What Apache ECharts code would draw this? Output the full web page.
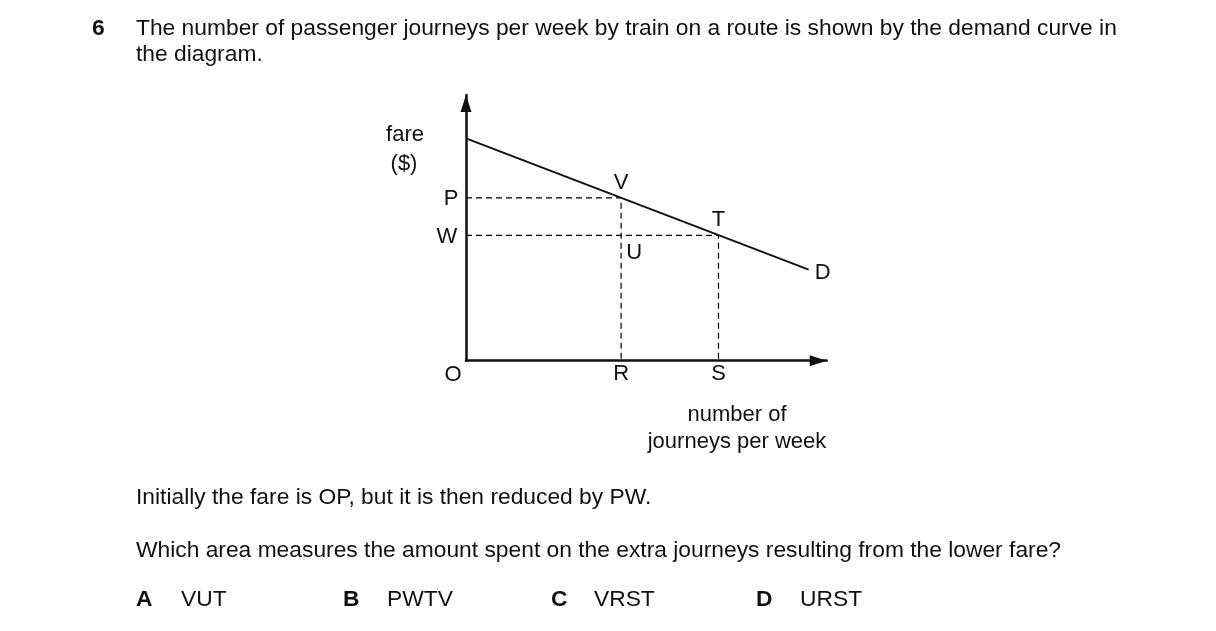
<!DOCTYPE html>
<html>
<head>
<meta charset="utf-8">
<script src="https://cdn.jsdelivr.net/npm/echarts@6/dist/echarts.min.js"></script>
<style>html,body{margin:0;padding:0;background:#fff}#c{width:1216px;height:631px}</style>
</head>
<body>
<div id="c"></div>
<script>
// ---- data ----
const demandX = [0, 95];
const demandY = [83.7, 34.3];
const fareP = 61.3;
const fareW = 47.2;
const qtyR = 43;
const qtyS = 70;
const pointNames = ['V', 'T', 'U', 'R', 'S', 'O', 'P', 'W', 'D'];
const pointX = [qtyR, qtyS, qtyR, qtyR, qtyS, 0, 0, 0, 95];
const pointY = [fareP, fareW, fareW, 0, 0, 0, fareP, fareW, 34.3];
const yAxisName = ['fare', '($)'];
const xAxisName = ['number of', 'journeys per week'];
const questionNo = '6';
const questionLines = ['The number of passenger journeys per week by train on a route is shown by the demand curve in', 'the diagram.'];
const bodyLine1 = 'Initially the fare is OP, but it is then reduced by PW.';
const bodyLine2 = 'Which area measures the amount spent on the extra journeys resulting from the lower fare?';
const optionLetters = ['A', 'B', 'C', 'D'];
const optionTexts = ['VUT', 'PWTV', 'VRST', 'URST'];

// ---- styling ----
const FONT = "'Liberation Sans', Arial, Helvetica, sans-serif";
const INK = '#111';
const BODY = 22.8;
const LBL = 22;
const labelOffsets = {
  V: [0, -14], T: [0, -15], U: [13, 18], R: [0, 14], S: [0, 14],
  O: [-13, 15], P: [-15, 2], W: [-19, 2], D: [14, 4]
};

const chart = echarts.init(document.getElementById('c'), null, {renderer: 'canvas'});

const dashStyle = {color: '#000', width: 1.2, type: [6, 4]};
const axisCommon = {
  type: 'value', min: 0, max: 100,
  axisLine: {show: true, symbol: ['none', 'triangle'], symbolSize: [11, 17], symbolOffset: [0, -8.5],
    lineStyle: {color: INK, width: 2.5}},
  axisTick: {show: false}, axisLabel: {show: false}, splitLine: {show: false}
};

const labelData = pointNames.map((n, i) => ({
  value: [pointX[i], pointY[i]],
  name: n,
  label: {
    show: true, position: 'top', distance: 0, formatter: n, offset: labelOffsets[n],
    fontFamily: FONT, fontSize: LBL, color: INK, textBorderWidth: 0, opacity: 1,
    align: 'center', verticalAlign: 'middle'
  }
}));

const graphics = [];
function txt(x, y, text, size, bold, align) {
  graphics.push({type: 'text', x: x, y: y, style: {
    text: text, font: (bold ? 'bold ' : '') + size + 'px ' + FONT, fill: INK,
    textAlign: align || 'left', textVerticalAlign: 'middle'
  }});
}
txt(92, 29, questionNo, BODY, true);
txt(136, 29, questionLines[0], BODY);
txt(136, 55, questionLines[1], BODY);
txt(405, 135, yAxisName[0], LBL, false, 'center');
txt(404, 164, yAxisName[1], LBL, false, 'center');
txt(737, 415, xAxisName[0], LBL, false, 'center');
txt(737, 442, xAxisName[1], LBL, false, 'center');
txt(136, 498, bodyLine1, BODY);
txt(136, 551, bodyLine2, BODY);
const optX = [[136, 181], [343, 387], [551, 594], [756, 800]];
optionLetters.forEach((l, i) => {
  txt(optX[i][0], 600, l, BODY, true);
  txt(optX[i][1], 600, optionTexts[i], BODY);
});

chart.setOption({
  animation: false,
  backgroundColor: '#fff',
  grid: {left: 466, top: 95, width: 360.7, height: 265.7, containLabel: false, outerBoundsMode: 'none'},
  xAxis: axisCommon,
  yAxis: axisCommon,
  graphic: graphics,
  series: [
    {type: 'line', data: demandX.map((x, i) => [x, demandY[i]]), showSymbol: false, symbol: 'none',
     lineStyle: {color: INK, width: 2}, z: 3},
    {type: 'line', data: [[0, fareP], [qtyR, fareP], [qtyR, 0]], symbol: 'none', lineStyle: dashStyle, z: 2},
    {type: 'line', data: [[0, fareW], [qtyS, fareW], [qtyS, 0]], symbol: 'none', lineStyle: dashStyle, z: 2},
    {type: 'scatter', data: labelData, symbolSize: 1, itemStyle: {color: 'rgba(0,0,0,0)'}, z: 4}
  ]
});
</script>
</body>
</html>
